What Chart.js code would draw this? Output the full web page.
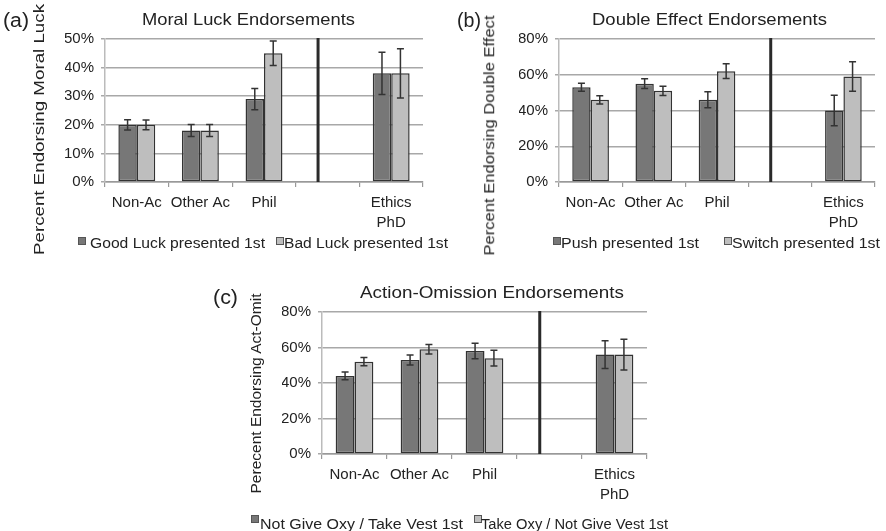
<!DOCTYPE html>
<html>
<head>
<meta charset="utf-8">
<script src="https://cdn.jsdelivr.net/npm/chart.js@4.4.1/dist/chart.umd.min.js"></script>
<style>
  body { margin:0; background:#fff; width:886px; height:531px; position:relative; overflow:hidden;
         font-family:"Liberation Sans", Arial, sans-serif; color:#222; }
  canvas { position:absolute; }
  .txt { position:absolute; white-space:nowrap; line-height:1; transform-origin:0 0; color:#222; }
  .key { position:absolute; width:8px; height:8px; box-sizing:border-box; border:1px solid #555; }
</style>
</head>
<body>
<script>
// categories shared by all three panels (4th slot is the empty gap before Ethics PhD)
var categories = ['Non-Ac', 'Other Ac', 'Phil', '', ['Ethics', 'PhD']];

// (a) moral luck
var goodLuckFirst = [20, 18, 29, null, 38];
var goodLuckErr   = [1.8, 2.1, 3.7, null, 7.4];
var badLuckFirst  = [20, 18, 45, null, 38];
var badLuckErr    = [1.7, 2.1, 4.3, null, 8.6];
var ticksA = [0, 10, 20, 30, 40, 50];

// (b) double effect
var pushFirst   = [53, 55, 46, null, 40];
var pushErr     = [2.3, 2.7, 4.5, null, 8.5];
var switchFirst = [46, 51, 62, null, 59];
var switchErr   = [2.3, 2.6, 4.1, null, 8.3];
var ticksB = [0, 20, 40, 60, 80];

// (c) action-omission
var notGiveOxyFirst = [44, 53, 58, null, 56];
var notGiveOxyErr   = [2.2, 2.8, 4.4, null, 7.8];
var takeOxyFirst    = [52, 59, 54, null, 56];
var takeOxyErr      = [2.3, 2.7, 4.4, null, 8.7];
var ticksC = [0, 20, 40, 60, 80];

// where the black separator goes, in category units
var dividerAt = 2.85;

var DARK = '#777777', LIGHT = '#bebebe';

Chart.defaults.font.family = '"Liberation Sans", Arial, sans-serif';
Chart.defaults.color = '#222';

// error bars drawn from each dataset's errors array
var errorBars = {
  id: 'errorBars',
  afterDatasetsDraw: function(chart) {
    var ctx = chart.ctx, y = chart.scales.y;
    ctx.save();
    ctx.strokeStyle = '#333';
    ctx.lineWidth = 1.5;
    chart.data.datasets.forEach(function(ds, i) {
      var meta = chart.getDatasetMeta(i);
      meta.data.forEach(function(bar, j) {
        var v = ds.data[j], e = ds.errors[j];
        if (v == null || e == null) return;
        var top = y.getPixelForValue(v + e), bot = y.getPixelForValue(v - e);
        ctx.beginPath();
        ctx.moveTo(bar.x, top); ctx.lineTo(bar.x, bot);
        ctx.moveTo(bar.x - 3.5, top); ctx.lineTo(bar.x + 3.5, top);
        ctx.moveTo(bar.x - 3.5, bot); ctx.lineTo(bar.x + 3.5, bot);
        ctx.stroke();
      });
    });
    ctx.restore();
  }
};

var divider = {
  id: 'divider',
  afterDatasetsDraw: function(chart) {
    var ctx = chart.ctx, a = chart.chartArea;
    var x = chart.scales.x.getPixelForValue(dividerAt);
    ctx.save();
    ctx.strokeStyle = '#2a2a2a';
    ctx.lineWidth = 3;
    ctx.beginPath();
    ctx.moveTo(x, a.top - 1); ctx.lineTo(x, a.bottom);
    ctx.stroke();
    ctx.restore();
  }
};

function makePanel(box, area, series, yTicks) {
  var cv = document.createElement('canvas');
  cv.width = box.w; cv.height = box.h;
  cv.style.left = box.left + 'px'; cv.style.top = box.top + 'px';
  cv.style.width = box.w + 'px'; cv.style.height = box.h + 'px';
  document.body.appendChild(cv);
  var yW = 40, xH = 50;
  return new Chart(cv, {
    type: 'bar',
    data: {
      labels: categories,
      datasets: series.map(function(s) {
        return {
          label: s.label, data: s.data, errors: s.err,
          backgroundColor: s.color, borderColor: '#333', borderWidth: 1.5, borderSkipped: false,
          barPercentage: 1, categoryPercentage: 0.58
        };
      })
    },
    options: {
      responsive: false, animation: false, devicePixelRatio: 1,
      layout: { padding: { left: area.left - yW, right: box.w - area.right,
                           top: area.top, bottom: box.h - area.bottom - xH } },
      plugins: { legend: { display: false }, tooltip: { enabled: false } },
      scales: {
        x: {
          grid: { drawOnChartArea: false, tickLength: 5, color: '#999', lineWidth: 1.2 },
          border: { color: '#999', width: 1.5 },
          ticks: { font: { size: 15, lineHeight: 1.33 }, color: '#222', padding: 6,
                   maxRotation: 0, autoSkip: false },
          afterFit: function(s) { s.height = xH; }
        },
        y: {
          min: yTicks[0], max: yTicks[yTicks.length - 1],
          afterBuildTicks: function(s) { s.ticks = yTicks.map(function(v) { return { value: v }; }); },
          grid: { color: '#a8a8a8', lineWidth: 1.5, tickLength: 4 },
          border: { color: '#bbb', width: 1.5 },
          ticks: { font: { size: 15 }, color: '#222', padding: 7,
                   callback: function(v) { return v + '%'; } },
          afterFit: function(s) { s.width = yW; }
        }
      }
    },
    plugins: [errorBars, divider]
  });
}

// text helpers: left edge, baseline, font size, target width
function placeText(str, left, baseline, size, width) {
  var d = document.createElement('div');
  d.className = 'txt';
  d.textContent = str;
  d.style.fontSize = size + 'px';
  document.body.appendChild(d);
  var w0 = d.getBoundingClientRect().width;
  d.style.left = left + 'px';
  d.style.top = (baseline - 0.8465 * size) + 'px';
  d.style.transform = 'scaleX(' + (width / w0) + ')';
}

function placeVText(str, cx, cy, size, length) {
  var d = document.createElement('div');
  d.className = 'txt';
  d.textContent = str;
  d.style.fontSize = size + 'px';
  document.body.appendChild(d);
  var w0 = d.getBoundingClientRect().width;
  d.style.left = (cx - w0 / 2) + 'px';
  d.style.top = (cy - size / 2) + 'px';
  d.style.transformOrigin = '50% 50%';
  d.style.transform = 'rotate(-90deg) scaleX(' + (length / w0) + ')';
}

function placeKey(x, y, color) {
  var k = document.createElement('div');
  k.className = 'key';
  k.style.left = x + 'px'; k.style.top = y + 'px';
  k.style.background = color;
  document.body.appendChild(k);
}

var seriesA = [
  { label: 'Good Luck presented 1st', data: goodLuckFirst, err: goodLuckErr, color: DARK },
  { label: 'Bad Luck presented 1st',  data: badLuckFirst,  err: badLuckErr,  color: LIGHT }
];
var seriesB = [
  { label: 'Push presented 1st',   data: pushFirst,   err: pushErr,   color: DARK },
  { label: 'Switch presented 1st', data: switchFirst, err: switchErr, color: LIGHT }
];
var seriesC = [
  { label: 'Not Give Oxy / Take Vest 1st', data: notGiveOxyFirst, err: notGiveOxyErr, color: DARK },
  { label: 'Take Oxy / Not Give Vest 1st', data: takeOxyFirst,    err: takeOxyErr,    color: LIGHT }
];

makePanel({ left: 0,   top: 0,   w: 440, h: 240 }, { left: 105, right: 423, top: 39, bottom: 182 }, seriesA, ticksA);
makePanel({ left: 440, top: 0,   w: 446, h: 240 }, { left: 119, right: 435, top: 39, bottom: 182 }, seriesB, ticksB);
makePanel({ left: 200, top: 270, w: 460, h: 240 }, { left: 122, right: 447, top: 42, bottom: 184 }, seriesC, ticksC);

// panel letters and titles
placeText('(a)', 3, 27, 20, 26);
placeText('(b)', 457, 27, 20, 24);
placeText('(c)', 213, 304, 20, 25);
placeText('Moral Luck Endorsements', 142, 25, 16.5, 213);
placeText('Double Effect Endorsements', 592, 25, 16.5, 235);
placeText('Action-Omission Endorsements', 360, 298, 16.5, 264);

// y axis titles
placeVText('Percent Endorsing Moral Luck', 38.5, 129.5, 15, 251);
placeVText('Percent Endorsing Double Effect', 489, 135, 15, 240);
placeVText('Perecent Endorsing Act-Omit', 255.5, 393, 15, 200);

// legends
placeKey(78, 237, DARK);  placeText(seriesA[0].label, 90, 247.5, 14, 175);
placeKey(276, 237, LIGHT); placeText(seriesA[1].label, 283.5, 247.5, 14, 164);
placeKey(553, 237, DARK);  placeText(seriesB[0].label, 560.5, 247.5, 14, 138);
placeKey(724, 237, LIGHT); placeText(seriesB[1].label, 731.5, 247.5, 14, 148);
placeKey(251, 515, DARK);  placeText(seriesC[0].label, 260, 528.5, 14, 203);
placeKey(474, 515, LIGHT); placeText(seriesC[1].label, 481, 528.5, 14, 187);
</script>
</body>
</html>
